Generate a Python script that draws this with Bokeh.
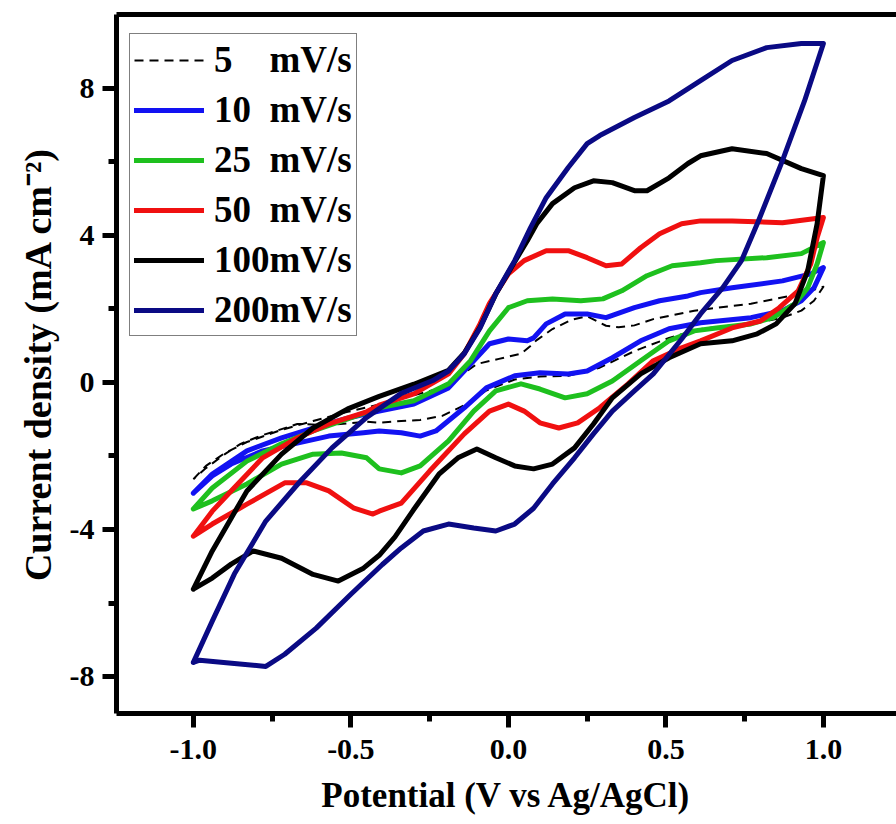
from bokeh.plotting import figure
from bokeh.models import FixedTicker, LinearAxis, Legend, LegendItem, PrintfTickFormatter
from bokeh.embed import file_html
from bokeh.resources import INLINE

# ---------------- data (potential V vs Ag/AgCl, current density mA cm^-2) ----------------
# 5 mV/s
e5_fwd = [-1.00, -0.96, -0.90, -0.83, -0.72, -0.62, -0.51, -0.41, -0.30, -0.19, -0.14, -0.10, -0.03,
          0.04, 0.07, 0.09, 0.14, 0.20, 0.25, 0.28, 0.31, 0.35, 0.40, 0.46, 0.59, 0.77, 0.93, 1.00]
j5_fwd = [-2.63, -2.27, -1.92, -1.62, -1.29, -1.05, -0.80, -0.60, -0.35, -0.10, 0.26, 0.50, 0.64,
          0.78, 0.99, 1.15, 1.45, 1.70, 1.80, 1.67, 1.54, 1.50, 1.55, 1.72, 1.95, 2.14, 2.41, 2.60]
e5_rev = [1.00, 0.97, 0.93, 0.87, 0.79, 0.71, 0.61, 0.51, 0.40, 0.29, 0.19, 0.10, 0.02, -0.07, -0.14,
          -0.21, -0.28, -0.34, -0.41, -0.45, -0.57, -0.67, -0.72, -0.79, -0.85, -0.90, -0.96, -1.00]
j5_rev = [2.60, 2.22, 1.95, 1.76, 1.62, 1.55, 1.45, 1.21, 0.85, 0.40, 0.18, 0.16, 0.08, -0.22, -0.62,
          -0.91, -1.02, -1.05, -1.10, -1.07, -1.16, -1.13, -1.27, -1.46, -1.67, -1.95, -2.33, -2.63]

# 10 mV/s
e10_fwd = [-1.00, -0.94, -0.83, -0.72, -0.62, -0.51, -0.41, -0.30, -0.19, -0.11, -0.06, 0.00, 0.06,
           0.08, 0.12, 0.18, 0.25, 0.31, 0.40, 0.48, 0.57, 0.61, 0.71, 0.87, 0.96, 1.00]
j10_fwd = [-3.01, -2.49, -1.86, -1.51, -1.24, -0.97, -0.78, -0.59, -0.15, 0.59, 1.05, 1.18, 1.13,
           1.21, 1.59, 1.86, 1.86, 1.76, 2.03, 2.22, 2.35, 2.44, 2.57, 2.76, 2.95, 3.12]
e10_rev = [1.00, 0.97, 0.93, 0.87, 0.77, 0.61, 0.51, 0.42, 0.33, 0.25, 0.19, 0.10, 0.02, -0.07, -0.14,
           -0.23, -0.28, -0.34, -0.41, -0.46, -0.57, -0.67, -0.78, -0.88, -0.94, -1.00]
j10_rev = [3.12, 2.57, 2.22, 1.95, 1.76, 1.62, 1.46, 1.13, 0.67, 0.31, 0.23, 0.26, 0.18, -0.15, -0.69,
           -1.32, -1.46, -1.37, -1.32, -1.37, -1.46, -1.65, -1.86, -2.22, -2.54, -3.01]

# 25 mV/s
e25_fwd = [-1.00, -0.94, -0.83, -0.72, -0.62, -0.51, -0.41, -0.30, -0.19, -0.12, -0.06, 0.00, 0.06,
           0.14, 0.23, 0.30, 0.36, 0.44, 0.52, 0.61, 0.66, 0.82, 0.93, 1.00]
j25_fwd = [-3.44, -2.87, -2.14, -1.67, -1.32, -0.99, -0.69, -0.50, -0.04, 0.59, 1.40, 2.03, 2.22,
           2.27, 2.22, 2.27, 2.49, 2.90, 3.17, 3.25, 3.31, 3.39, 3.50, 3.80]
e25_rev = [1.00, 0.98, 0.95, 0.91, 0.84, 0.77, 0.66, 0.59, 0.51, 0.42, 0.33, 0.25, 0.18, 0.10, 0.04,
           -0.04, -0.11, -0.19, -0.28, -0.34, -0.41, -0.45, -0.53, -0.62, -0.72, -0.83, -0.94, -1.00]
j25_rev = [3.80, 3.22, 2.57, 2.14, 1.76, 1.59, 1.48, 1.40, 1.13, 0.59, 0.04, -0.31, -0.42, -0.18, -0.04,
           -0.23, -0.78, -1.59, -2.27, -2.46, -2.35, -2.05, -1.92, -1.95, -2.22, -2.76, -3.22, -3.44]

# 50 mV/s
e50_fwd = [-1.00, -0.94, -0.88, -0.78, -0.67, -0.57, -0.45, -0.41, -0.30, -0.19, -0.14, -0.09, -0.06,
           0.00, 0.05, 0.12, 0.19, 0.25, 0.31, 0.36, 0.42, 0.48, 0.55, 0.61, 0.71, 0.87, 1.00]
j50_fwd = [-4.18, -3.50, -2.95, -2.05, -1.51, -1.13, -0.80, -0.62, -0.31, 0.23, 0.78, 1.59, 2.15,
           2.95, 3.31, 3.58, 3.58, 3.39, 3.17, 3.22, 3.66, 4.04, 4.31, 4.39, 4.39, 4.34, 4.48]
e50_rev = [1.00, 0.98, 0.96, 0.92, 0.86, 0.80, 0.71, 0.61, 0.55, 0.46, 0.38, 0.29, 0.22, 0.16, 0.10,
           0.05, 0.00, -0.06, -0.14, -0.25, -0.34, -0.41, -0.43, -0.49, -0.57, -0.64, -0.71, -0.83,
           -0.94, -1.00]
j50_rev = [4.48, 3.93, 3.22, 2.49, 2.03, 1.67, 1.48, 1.13, 0.94, 0.59, -0.04, -0.69, -1.10, -1.24, -1.10,
           -0.78, -0.59, -0.78, -1.40, -2.41, -3.28, -3.50, -3.58, -3.42, -2.95, -2.73, -2.73, -3.31,
           -3.85, -4.18]

# 100 mV/s
e100_fwd = [-1.00, -0.94, -0.88, -0.83, -0.72, -0.62, -0.51, -0.41, -0.30, -0.19, -0.14, -0.09,
            -0.04, 0.02, 0.06, 0.09, 0.14, 0.21, 0.27, 0.33, 0.40, 0.44, 0.51, 0.57, 0.61, 0.71, 0.82,
            0.93, 1.00]
j100_fwd = [-5.62, -4.58, -3.69, -2.95, -1.95, -1.24, -0.72, -0.38, -0.05, 0.33, 0.80, 1.50,
            2.40, 3.28, 3.85, 4.31, 4.86, 5.29, 5.48, 5.43, 5.21, 5.21, 5.56, 5.95, 6.16, 6.35, 6.22,
            5.81, 5.62]
e100_rev = [1.00, 0.98, 0.95, 0.91, 0.85, 0.79, 0.71, 0.61, 0.51, 0.42, 0.33, 0.27, 0.21, 0.14, 0.08,
            0.02, -0.04, -0.10, -0.16, -0.22, -0.30, -0.36, -0.41, -0.46, -0.54, -0.62, -0.72, -0.81,
            -0.88, -0.94, -1.00]
j100_rev = [5.62, 4.31, 3.03, 2.14, 1.59, 1.32, 1.13, 1.05, 0.67, 0.23, -0.42, -1.13, -1.78, -2.22, -2.35,
            -2.27, -2.05, -1.81, -2.05, -2.49, -3.45, -4.20, -4.70, -5.05, -5.40, -5.22, -4.78, -4.58,
            -4.94, -5.32, -5.62]

# 200 mV/s
e200_fwd = [-1.00, -0.94, -0.87, -0.77, -0.66, -0.56, -0.45, -0.34, -0.24, -0.19, -0.14, -0.09, -0.04,
            0.02, 0.07, 0.12, 0.19, 0.25, 0.29, 0.40, 0.51, 0.61, 0.71, 0.82, 0.93, 1.00]
j200_fwd = [-7.61, -6.49, -5.21, -3.77, -2.68, -1.78, -0.95, -0.30, 0.05, 0.31, 0.78, 1.48, 2.41,
            3.31, 4.20, 5.02, 5.84, 6.49, 6.71, 7.20, 7.65, 8.20, 8.75, 9.10, 9.21, 9.21]
e200_rev = [1.00, 0.94, 0.87, 0.79, 0.74, 0.68, 0.61, 0.55, 0.46, 0.40, 0.33, 0.27, 0.21, 0.14, 0.08,
            0.02, -0.04, -0.11, -0.19, -0.27, -0.34, -0.40, -0.50, -0.61, -0.71, -0.77, -0.87, -0.98,
            -1.00]
j200_rev = [9.21, 7.65, 6.03, 4.31, 3.31, 2.57, 1.86, 1.18, 0.23, -0.23, -0.78, -1.40, -2.05, -2.76, -3.42,
            -3.85, -4.04, -3.96, -3.85, -4.04, -4.50, -4.95, -5.76, -6.68, -7.39, -7.72, -7.64, -7.55,
            -7.61]

series_labels = ["5\u00a0\u00a0\u00a0\u00a0mV/s", "10\u00a0\u00a0mV/s", "25\u00a0\u00a0mV/s",
                 "50\u00a0\u00a0mV/s", "100mV/s", "200mV/s"]
x_ticks = [-1.0, -0.5, 0.0, 0.5, 1.0]
x_minor = [-0.75, -0.25, 0.25, 0.75]
y_ticks = [-8, -4, 0, 4, 8]
y_minor = [-6, -2, 2, 6]

# ---------------- figure ----------------
FONT = "Liberation Serif"
p = figure(width=896, height=824, x_range=(-1.244, 1.232), y_range=(-9.0, 10.0),
           output_backend="svg", toolbar_location=None,
           min_border_left=116, min_border_right=0, min_border_top=14, min_border_bottom=111)
p.outline_line_color = None
p.xgrid.visible = False
p.ygrid.visible = False
p.background_fill_color = "white"

curves = [
    (e5_fwd + e5_rev, j5_fwd + j5_rev, "black", 2, "9 6", "butt"),
    (e10_fwd + e10_rev, j10_fwd + j10_rev, "#1212f2", 5, "solid", "round"),
    (e25_fwd + e25_rev, j25_fwd + j25_rev, "#1ec01e", 5, "solid", "round"),
    (e50_fwd + e50_rev, j50_fwd + j50_rev, "#f01010", 5, "solid", "round"),
    (e100_fwd + e100_rev, j100_fwd + j100_rev, "black", 5, "solid", "round"),
    (e200_fwd + e200_rev, j200_fwd + j200_rev, "#0a0a84", 5, "solid", "round"),
]
renderers = []
for xs, ys, col, lw, dash, cap in curves:
    r = p.line(xs, ys, line_color=col, line_width=lw, line_dash=dash,
               line_join="round", line_cap=cap)
    renderers.append(r)

# axes
xa = p.xaxis[0]
ya = p.yaxis[0]
xa.ticker = FixedTicker(ticks=x_ticks, minor_ticks=x_minor)
ya.ticker = FixedTicker(ticks=y_ticks, minor_ticks=y_minor)
xa.formatter = PrintfTickFormatter(format="%.1f")
ya.formatter = PrintfTickFormatter(format="%d")
for ax in (xa, ya):
    ax.axis_line_width = 5
    ax.axis_line_color = "black"
    ax.major_tick_line_width = 5
    ax.minor_tick_line_width = 5
    ax.major_tick_in = 0
    ax.minor_tick_in = 0
    ax.major_tick_out = 14
    ax.minor_tick_out = 8
    ax.major_label_text_font = FONT
    ax.major_label_text_font_style = "bold"
    ax.major_label_text_font_size = "30px"
    ax.major_label_text_color = "black"
    ax.axis_label_text_font = FONT
    ax.axis_label_text_font_style = "bold"
    ax.axis_label_text_color = "black"
xa.major_label_standoff = 12
ya.major_label_standoff = 8
xa.axis_label = "Potential (V vs Ag/AgCl)"
xa.axis_label_text_font_size = "35px"
xa.axis_label_standoff = 14
ya.axis_label = "Current density (mA cm\u207b\u00b2)"
ya.axis_label_text_font_size = "38px"
ya.axis_label_standoff = 8

top = LinearAxis(ticker=FixedTicker(ticks=[]), axis_line_width=5, axis_line_color="black",
                 major_tick_out=0, minor_tick_out=0, major_label_standoff=0,
                 major_label_text_font_size="0px")
p.add_layout(top, "above")

legend = Legend(items=[LegendItem(label=lab, renderers=[r]) for lab, r in zip(series_labels, renderers)],
                location=(13, 377))
legend.label_text_font = FONT
legend.label_text_font_style = "bold"
legend.label_text_font_size = "37px"
legend.label_text_color = "black"
legend.glyph_width = 70
legend.glyph_height = 42
legend.label_height = 42
legend.spacing = 7
legend.padding = 4
legend.margin = 0
legend.label_standoff = 10
legend.border_line_color = "black"
legend.border_line_width = 1
legend.background_fill_color = "white"
legend.background_fill_alpha = 1.0
p.add_layout(legend, "center")

open("out.html", "w").write(file_html(p, INLINE))
